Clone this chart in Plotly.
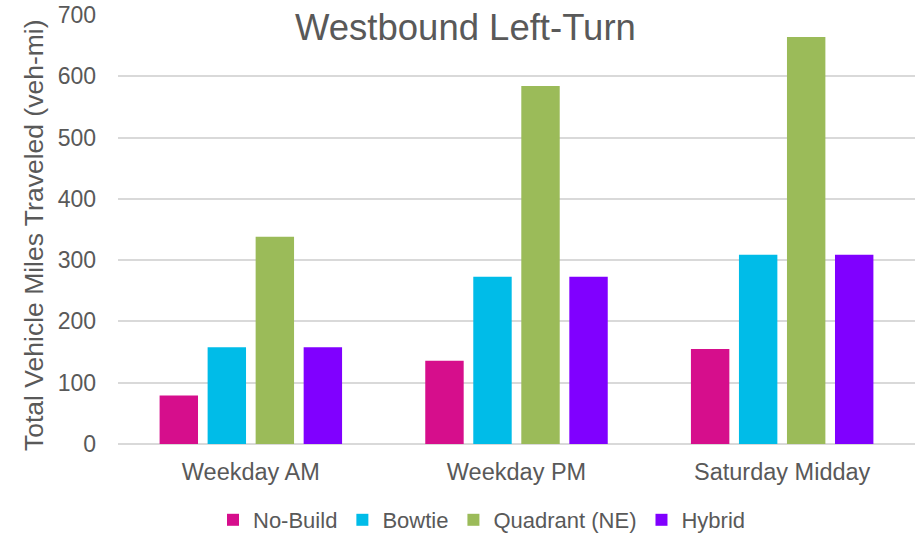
import plotly.graph_objects as go

categories = ["Weekday AM", "Weekday PM", "Saturday Midday"]
no_build = [79, 136, 155]
bowtie = [158, 273, 309]
quadrant = [338, 584, 664]
hybrid = [158, 273, 309]
series_names = ["No-Build", "Bowtie", "Quadrant (NE)", "Hybrid"]
colors = ["#D60E8C", "#00BCE8", "#9BBB59", "#8000FF"]
y_ticks = [0, 100, 200, 300, 400, 500, 600, 700]

font_family = "Liberation Sans, Arial, sans-serif"
txt = "#595959"

W, H = 915, 536
ML, MR, MT, MB = 118, 0, 15, 92
PH = H - MT - MB
PW = W - ML - MR


def px_x(sx):
    return (sx - ML) / PW


def px_y(sy):
    return 1 - (sy - MT) / PH


fig = go.Figure()
for name, vals, col in zip(series_names, [no_build, bowtie, quadrant, hybrid], colors):
    fig.add_trace(go.Bar(x=categories, y=vals, name=name, marker=dict(color=col, line=dict(width=0))))

fig.update_layout(
    width=W, height=H,
    margin=dict(l=ML, r=MR, t=MT, b=MB, autoexpand=False),
    paper_bgcolor="white", plot_bgcolor="white",
    barmode="group", bargap=0.277, bargroupgap=0.2,
    font=dict(family=font_family, color=txt, size=22),
    showlegend=True,
    legend=dict(orientation="h", x=px_x(482), xanchor="center",
                y=px_y(520), yanchor="middle",
                font=dict(size=22, color=txt), itemwidth=30, tracegroupgap=0,
                bgcolor="rgba(0,0,0,0)"),
    annotations=[
        dict(text="Westbound Left-Turn", x=px_x(465), xref="paper",
             y=px_y(27), yref="paper", showarrow=False,
             font=dict(size=36.5, color=txt), xanchor="center", yanchor="middle"),
        dict(text="Total Vehicle Miles Traveled (veh-mi)", x=px_x(34), xref="paper",
             y=px_y(235), yref="paper", showarrow=False, textangle=-90,
             font=dict(size=26.5, color=txt), xanchor="center", yanchor="middle"),
    ],
)
fig.update_xaxes(showgrid=False, showline=False, ticks="", automargin=False,
                 tickfont=dict(size=23.5, color=txt), ticklabelstandoff=11)
fig.update_yaxes(range=[0, 700], tickvals=y_ticks, showgrid=True, gridcolor="#d9d9d9", gridwidth=1.5,
                 zeroline=True, zerolinecolor="#d9d9d9", zerolinewidth=1.5, showline=False,
                 automargin=False, ticklabeloverflow="allow",
                 tickfont=dict(size=23, color=txt), ticklabelstandoff=21)

fig.write_html("out.html", config={"displayModeBar": False},
               post_script="document.body.style.margin='0';document.body.style.overflow='hidden';")
